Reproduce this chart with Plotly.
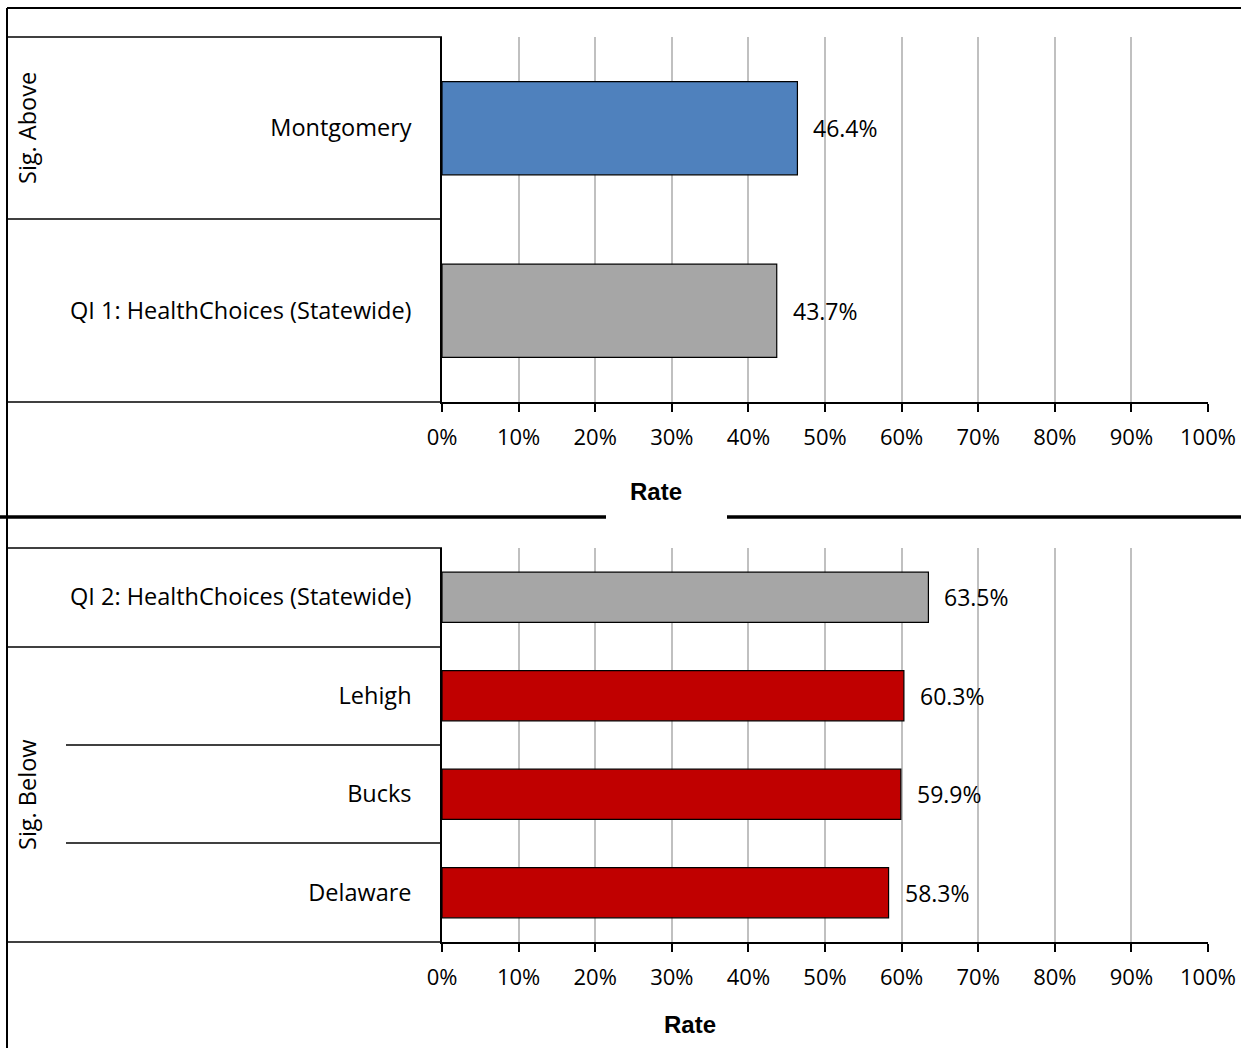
import plotly.graph_objects as go

W, H = 1241, 1048

# ---- data ----
top_categories = ["QI 1: HealthChoices (Statewide)", "Montgomery"]
top_values = [0.437, 0.464]
top_colors = ["#A6A6A6", "#4F81BD"]

bottom_categories = ["Delaware", "Bucks", "Lehigh", "QI 2: HealthChoices (Statewide)"]
bottom_values = [0.583, 0.599, 0.603, 0.635]
bottom_colors = ["#C00000", "#C00000", "#C00000", "#A6A6A6"]

x_ticks = [0, 0.1, 0.2, 0.3, 0.4, 0.5, 0.6, 0.7, 0.8, 0.9, 1.0]
x_tick_labels = ["0%", "10%", "20%", "30%", "40%", "50%", "60%", "70%", "80%", "90%", "100%"]


def px(x):
    return x / W


def py(y):
    return 1 - y / H


LABEL_FONT = dict(family="Open Sans, Noto Sans, sans-serif", size=23.5, color="#000000")
VALUE_FONT = dict(family="Open Sans, Noto Sans, sans-serif", size=23, color="#000000")
TICK_FONT = dict(family="Open Sans, Noto Sans, sans-serif", size=22, color="#000000")
TITLE_FONT = dict(family="Liberation Sans, Arial, sans-serif", size=24, color="#000000")

fig = go.Figure()

fig.add_trace(go.Bar(
    x=top_values, y=top_categories, orientation="h",
    marker=dict(color=top_colors, line=dict(color="#000000", width=1.2)),
    width=0.51, xaxis="x", yaxis="y", showlegend=False, hoverinfo="skip",
))
fig.add_trace(go.Bar(
    x=bottom_values, y=bottom_categories, orientation="h",
    marker=dict(color=bottom_colors, line=dict(color="#000000", width=1.2)),
    width=0.51, xaxis="x2", yaxis="y2", showlegend=False, hoverinfo="skip",
))

xaxis_common = dict(
    range=[0, 1], tickvals=x_ticks, ticktext=x_tick_labels,
    showgrid=True, gridcolor="#C0C0C0", gridwidth=2,
    showline=True, linecolor="#000000", linewidth=2,
    ticks="outside", ticklen=8, tickcolor="#000000", tickwidth=1.5,
    tickfont=TICK_FONT, ticklabelstandoff=7, zeroline=False, fixedrange=True,
    automargin=False,
)
yaxis_common = dict(
    showgrid=False, showline=True, linecolor="#000000", linewidth=1.5,
    ticks="", tickfont=LABEL_FONT, ticklabelstandoff=24, zeroline=False, fixedrange=True,
    automargin=False,
)

fig.update_layout(
    width=W, height=H, margin=dict(l=0, r=0, t=0, b=0, autoexpand=False),
    paper_bgcolor="#FFFFFF", plot_bgcolor="#FFFFFF",
    bargap=0.49,
    xaxis=dict(domain=[px(442), px(1208)], anchor="y", **xaxis_common),
    yaxis=dict(domain=[py(402), py(37)], anchor="x", categoryorder="array",
               categoryarray=top_categories, **yaxis_common),
    xaxis2=dict(domain=[px(442), px(1208)], anchor="y2", **xaxis_common),
    yaxis2=dict(domain=[py(942), py(548)], anchor="x2", categoryorder="array",
                categoryarray=bottom_categories, **yaxis_common),
)

annotations = []
for cat, val in zip(top_categories, top_values):
    annotations.append(dict(x=val, y=cat, xref="x", yref="y", text=f"{val*100:.1f}%",
                            showarrow=False, xanchor="left", yanchor="middle", xshift=14,
                            font=VALUE_FONT))
for cat, val in zip(bottom_categories, bottom_values):
    annotations.append(dict(x=val, y=cat, xref="x2", yref="y2", text=f"{val*100:.1f}%",
                            showarrow=False, xanchor="left", yanchor="middle", xshift=14,
                            font=VALUE_FONT))

annotations += [
    dict(x=px(27), y=py(128), xref="paper", yref="paper", text="Sig. Above", textangle=-90,
         showarrow=False, xanchor="center", yanchor="middle", font=LABEL_FONT),
    dict(x=px(27), y=py(795), xref="paper", yref="paper", text="Sig. Below", textangle=-90,
         showarrow=False, xanchor="center", yanchor="middle", font=LABEL_FONT),
    dict(x=px(656), y=py(492), xref="paper", yref="paper", text="<b>Rate</b>",
         showarrow=False, xanchor="center", yanchor="middle", font=TITLE_FONT),
    dict(x=px(690), y=py(1024), xref="paper", yref="paper", text="<b>Rate</b>",
         showarrow=False, xanchor="center", yanchor="middle", font=TITLE_FONT),
]
fig.update_layout(annotations=annotations)


def hline(x0, x1, y, w=1.5):
    return dict(type="line", xref="paper", yref="paper", x0=px(x0), x1=px(x1),
                y0=py(y), y1=py(y), line=dict(color="#000000", width=w))


def vline(x, y0, y1, w=1.5):
    return dict(type="line", xref="paper", yref="paper", x0=px(x), x1=px(x),
                y0=py(y0), y1=py(y1), line=dict(color="#000000", width=w))


shapes = [
    # outer frame
    hline(7, 1241, 8, 2),
    vline(7, 8, 1048, 2),
    # divider between the two charts (gap behind the title)
    hline(0, 606, 517, 3.5),
    hline(727, 1241, 517, 3.5),
    # top table lines
    hline(7, 442, 37),
    hline(7, 442, 219),
    hline(7, 442, 402),
    # bottom table lines
    hline(7, 442, 548),
    hline(7, 442, 647),
    hline(66, 442, 745),
    hline(66, 442, 843),
    hline(7, 442, 942),
]
fig.update_layout(shapes=shapes)

fig.write_html("out.html")
